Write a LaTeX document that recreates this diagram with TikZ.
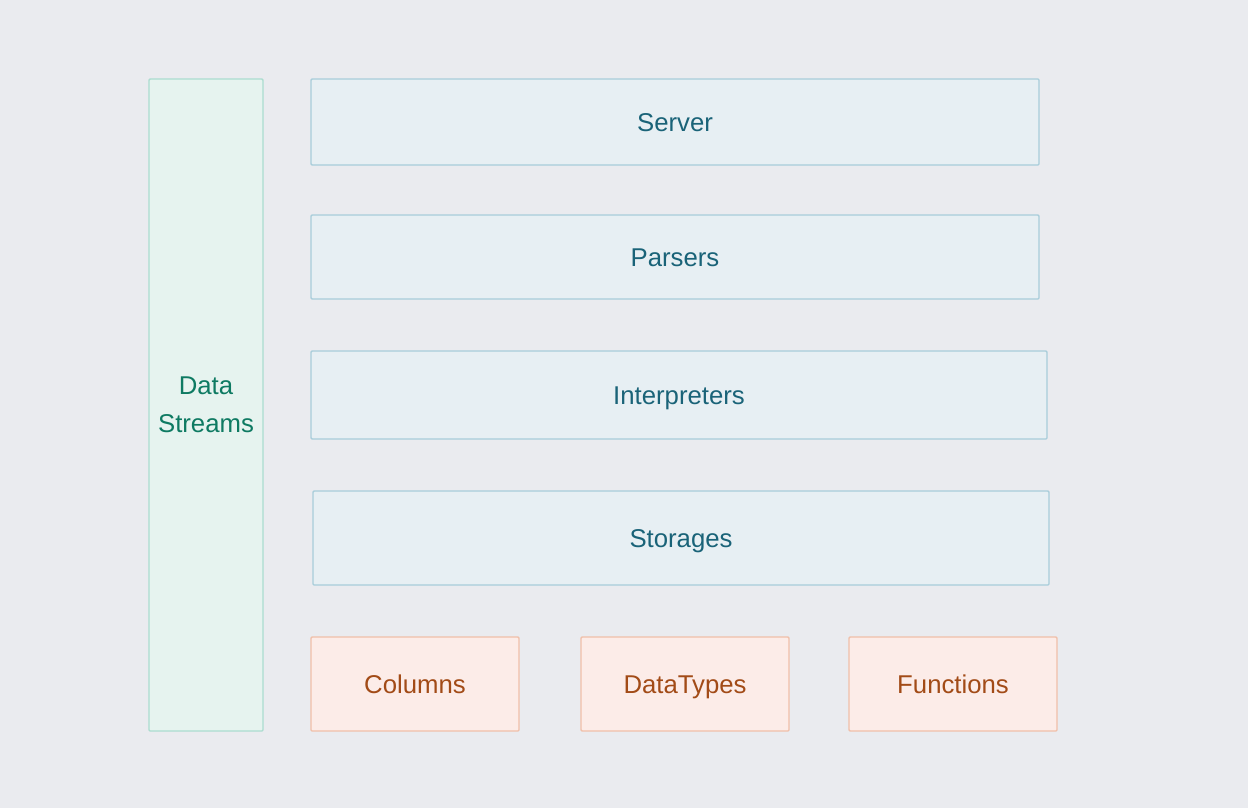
\documentclass[tikz,border=0pt]{standalone}
\usepackage{fontspec}
\setmainfont{Liberation Sans}
\usetikzlibrary{positioning}
\definecolor{bgcol}{HTML}{EAEBEF}
\definecolor{greenfill}{HTML}{E6F3EF}
\definecolor{greendraw}{HTML}{ABDCCF}
\definecolor{greentext}{HTML}{0E7A62}
\definecolor{bluefill}{HTML}{E7EFF3}
\definecolor{bluedraw}{HTML}{A8CDDA}
\definecolor{bluetext}{HTML}{1A6378}
\definecolor{orangefill}{HTML}{FCECE8}
\definecolor{orangedraw}{HTML}{F0BFA9}
\definecolor{orangetext}{HTML}{A24B17}
\tikzstyle{layer} = [rectangle, rounded corners=0.8pt, line width=1pt, text centered, inner sep=0pt, font=\fontsize{19.3}{28.5}\selectfont]
\tikzstyle{stream} = [layer, fill=greenfill, draw=greendraw, text=greentext, align=center, minimum width=85.5pt, minimum height=489pt]
\tikzstyle{module} = [layer, fill=bluefill, draw=bluedraw, text=bluetext, text height=13.9pt, text depth=0pt]
\tikzstyle{base} = [layer, fill=orangefill, draw=orangedraw, text=orangetext, text height=13.9pt, text depth=0pt, minimum width=156pt, minimum height=70.5pt]

\begin{document}
\begin{tikzpicture}[x=0.75pt, y=-0.75pt]
\useasboundingbox [fill=bgcol] (0,0) rectangle (1248,808);

\node (data streams) [stream] at (206,405) {Data\\Streams};

\node (server) [module, minimum width=546pt, minimum height=64.5pt] at (675,122) {Server};
\node (parsers) [module, minimum width=546pt, minimum height=63pt] at (675,257) {Parsers};
\node (interpreters) [module, minimum width=552pt, minimum height=66pt] at (679,395) {Interpreters};
\node (storages) [module, minimum width=552pt, minimum height=70.5pt] at (681,538) {Storages};

\node (columns) [base] at (415,684) {Columns};
\node (datatypes) [base] at (685,684) {DataTypes};
\node (functions) [base] at (953,684) {Functions};

\end{tikzpicture}
\end{document}
